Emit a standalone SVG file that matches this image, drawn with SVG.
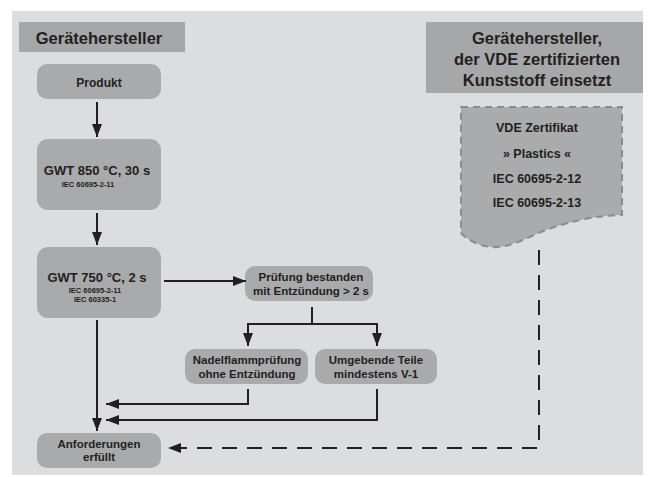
<svg xmlns="http://www.w3.org/2000/svg" width="648" height="477" viewBox="0 0 648 477">
<style>
.bg{fill:#dcdddf}
.hdr{fill:#a6a7a9}
.node{fill:#a9aaac}
.t{font-family:"Liberation Sans",Arial,sans-serif;font-weight:bold;fill:#231f20;text-anchor:middle}
.h{font-size:16.5px}
.m{font-size:13px}
.s{font-size:7.5px}
.n{font-size:11.5px}
.p{font-size:12px}
.c{font-size:12.5px}
.ln{fill:none;stroke:#231f20;stroke-width:2}
.ds{fill:none;stroke:#231f20;stroke-width:2;stroke-dasharray:15 10}
</style>
<defs>
<marker id="ah" markerUnits="userSpaceOnUse" markerWidth="13" markerHeight="10" refX="13" refY="5" orient="auto">
<path d="M0,0 L13,5 L0,10 Z" fill="#231f20"/>
</marker>
</defs>
<rect class="bg" x="12" y="11" width="631" height="464"/>

<g id="header-left">
<rect class="hdr" x="19" y="22" width="166" height="30"/>
<text class="t h" x="99" y="44">Gerätehersteller</text>
</g>

<g id="header-right">
<rect class="hdr" x="426" y="22" width="217" height="71"/>
<text class="t h" x="537" y="44">Gerätehersteller,</text>
<text class="t h" x="537" y="65">der VDE zertifizierten</text>
<text class="t h" x="537" y="86">Kunststoff einsetzt</text>
</g>

<g id="produkt">
<rect class="node" x="37" y="64" width="124" height="35" rx="10"/>
<text class="t p" x="99" y="87">Produkt</text>
</g>

<g id="gwt850">
<rect class="node" x="37" y="139" width="124" height="71" rx="11"/>
<text class="t m" x="97" y="175">GWT 850 °C, 30 s</text>
<text class="t s" x="88" y="187">IEC 60695-2-11</text>
</g>

<g id="gwt750">
<rect class="node" x="37" y="247" width="124" height="71" rx="11"/>
<text class="t m" x="97" y="282">GWT 750 °C, 2 s</text>
<text class="t s" x="95" y="293">IEC 60695-2-11</text>
<text class="t s" x="95" y="302">IEC 60335-1</text>
</g>

<g id="pruefung">
<rect class="node" x="245" y="266" width="128" height="35" rx="10"/>
<text class="t n" x="311" y="281">Prüfung bestanden</text>
<text class="t n" x="311" y="295">mit Entzündung &gt; 2 s</text>
</g>

<g id="nadel">
<rect class="node" x="185" y="349" width="123" height="35" rx="10"/>
<text class="t n" x="247" y="364">Nadelflammprüfung</text>
<text class="t n" x="247" y="378">ohne Entzündung</text>
</g>

<g id="umgebende">
<rect class="node" x="315" y="349" width="122" height="35" rx="10"/>
<text class="t n" x="376" y="364">Umgebende Teile</text>
<text class="t n" x="376" y="378">mindestens V-1</text>
</g>

<g id="anforderungen">
<rect class="node" x="37" y="433" width="124" height="35" rx="10"/>
<text class="t n" x="99" y="448">Anforderungen</text>
<text class="t n" x="99" y="461">erfüllt</text>
</g>

<g id="zertifikat">
<path d="M461,107 H622 V215 C598,215 562,222 532,236 C516,243 505,248 492,247 C478,246 466,239 461,233 Z" fill="#aaabad" stroke="#8b8c8e" stroke-width="2" stroke-dasharray="7 5"/>
<text class="t c" x="537" y="132">VDE Zertifikat</text>
<text class="t c" x="537" y="158">» Plastics «</text>
<text class="t c" x="537" y="183">IEC 60695-2-12</text>
<text class="t c" x="537" y="207">IEC 60695-2-13</text>
</g>

<g id="connectors">
<line class="ln" x1="97" y1="102" x2="97" y2="137" marker-end="url(#ah)"/>
<line class="ln" x1="97" y1="213" x2="97" y2="245" marker-end="url(#ah)"/>
<line class="ln" x1="164" y1="281" x2="246" y2="281" marker-end="url(#ah)"/>
<polyline class="ln" points="312,307 312,324"/>
<polyline class="ln" points="248,324 377,324"/>
<line class="ln" x1="248" y1="323" x2="248" y2="346" marker-end="url(#ah)"/>
<line class="ln" x1="377" y1="323" x2="377" y2="346" marker-end="url(#ah)"/>
<line class="ln" x1="97" y1="320" x2="97" y2="431" marker-end="url(#ah)"/>
<polyline class="ln" points="248,389 248,404 106,404" marker-end="url(#ah)"/>
<polyline class="ln" points="377,389 377,420 106,420" marker-end="url(#ah)"/>
<polyline class="ds" points="539,250 539,448 168,448" marker-end="url(#ah)"/>
</g>
</svg>
